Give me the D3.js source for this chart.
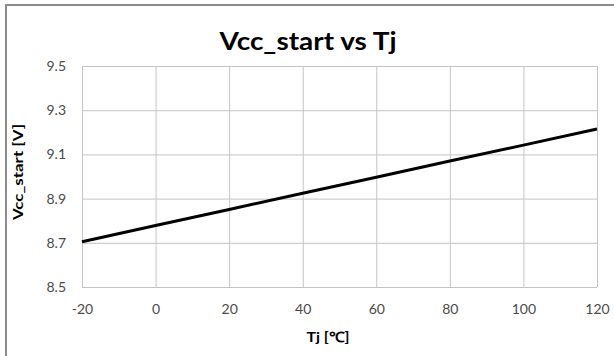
<!DOCTYPE html>
<html>
<head>
<meta charset="utf-8">
<script src="https://cdn.jsdelivr.net/npm/d3@7/dist/d3.min.js"></script>
<style>
  html, body { margin: 0; padding: 0; background: #fff; }
  svg { display: block; }
</style>
</head>
<body>
<svg id="chart" width="614" height="356"></svg>
<script>
// Junction temperature (°C) and start-up voltage (V)
const tj = [-20, 0, 20, 40, 60, 80, 100, 120];
const vccStart = [8.705, 8.778, 8.851, 8.924, 8.997, 9.070, 9.142, 9.215];
const xTicks = [-20, 0, 20, 40, 60, 80, 100, 120];
const yTicks = [8.5, 8.7, 8.9, 9.1, 9.3, 9.5];

const svg = d3.select("#chart");
const plot = { left: 82, right: 597, top: 66, bottom: 287 };

// chart frame
svg.append("rect")
  .attr("x", 6).attr("y", 5)
  .attr("width", 620).attr("height", 360)
  .attr("fill", "#fff")
  .attr("stroke", "#8c8c8c").attr("stroke-width", 2);

const x = d3.scaleLinear().domain([-20, 120]).range([plot.left, plot.right]);
const y = d3.scaleLinear().domain([8.5, 9.5]).range([plot.bottom, plot.top]);

const font = "Lato, 'Open Sans', sans-serif";

// gridlines
svg.append("g")
  .attr("transform", `translate(0,${plot.bottom})`)
  .call(d3.axisBottom(x).tickValues(xTicks).tickSize(-(plot.bottom - plot.top)).tickFormat(""))
  .call(g => g.select(".domain").remove())
  .call(g => g.selectAll("line").attr("stroke", "#c4c4c4").attr("stroke-width", 1));

svg.append("g")
  .attr("transform", `translate(${plot.left},0)`)
  .call(d3.axisLeft(y).tickValues(yTicks).tickSize(-(plot.right - plot.left)).tickFormat(""))
  .call(g => g.select(".domain").remove())
  .call(g => g.selectAll("line").attr("stroke", "#c4c4c4").attr("stroke-width", 1));

// tick labels (plain hyphen for negatives)
svg.append("g")
  .attr("transform", `translate(0,${plot.bottom})`)
  .call(d3.axisBottom(x).tickValues(xTicks).tickSize(0).tickPadding(17).tickFormat(d => String(d)))
  .call(g => g.select(".domain").remove())
  .call(g => g.selectAll("text").attr("font-family", font).attr("font-size", 14).attr("fill", "#4a4a4a"));

svg.append("g")
  .attr("transform", `translate(${plot.left},0)`)
  .call(d3.axisLeft(y).tickValues(yTicks).tickSize(0).tickPadding(16).tickFormat(d3.format(".1f")))
  .call(g => g.select(".domain").remove())
  .call(g => g.selectAll("text").attr("font-family", font).attr("font-size", 14).attr("fill", "#4a4a4a"));

// data line
svg.append("path")
  .datum(tj.map((t, i) => [t, vccStart[i]]))
  .attr("fill", "none")
  .attr("stroke", "#000")
  .attr("stroke-width", 3)
  .attr("d", d3.line().x(d => x(d[0])).y(d => y(d[1])));

// title
svg.append("text")
  .attr("x", 308).attr("y", 50)
  .attr("text-anchor", "middle")
  .attr("font-family", font).attr("font-weight", "bold").attr("font-size", 25)
  .attr("textLength", 177).attr("lengthAdjust", "spacingAndGlyphs")
  .text("Vcc_start vs Tj");

// axis titles
svg.append("text")
  .attr("x", 328).attr("y", 342)
  .attr("text-anchor", "middle")
  .attr("font-family", font).attr("font-weight", "bold").attr("font-size", 14)
  .attr("textLength", 43).attr("lengthAdjust", "spacingAndGlyphs")
  .text("Tj [℃]");

svg.append("text")
  .attr("transform", "translate(23,172) rotate(-90)")
  .attr("text-anchor", "middle")
  .attr("font-family", font).attr("font-weight", "bold").attr("font-size", 14)
  .attr("textLength", 96).attr("lengthAdjust", "spacingAndGlyphs")
  .text("Vcc_start [V]");
</script>
</body>
</html>
